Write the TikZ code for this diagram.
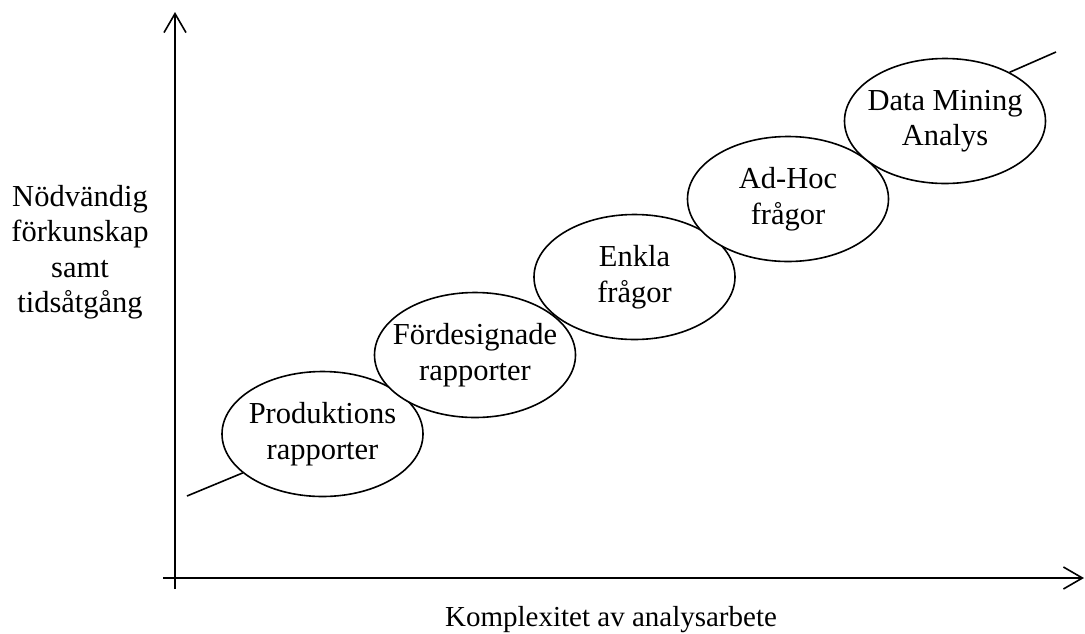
\documentclass[tikz,border=0pt]{standalone}
\usepackage{fontspec}
\setmainfont{Liberation Serif}
\usetikzlibrary{shapes.geometric,arrows.meta}
\tikzset{
  stage/.style={ellipse, draw, fill=white, line width=1.6pt, inner sep=0pt,
    minimum width=201pt, minimum height=125pt},
  stagetext/.style={align=center, inner sep=0pt},
  axis/.style={line width=1.6pt, -{Straight Barb[length=19pt,width=22pt,line width=1.6pt]}},
  trend/.style={line width=1.6pt}
}
\begin{document}
\begin{tikzpicture}[x=1pt,y=-1pt,font=\fontsize{30.5}{35.5}\selectfont]
\useasboundingbox (0,0) rectangle (1085,633);
% axes
\coordinate (yb) at (175,589);
\coordinate (yt) at (175,12);
\coordinate (xl) at (163,578);
\coordinate (xr) at (1084,578);
\draw[axis] (yb) -- (yt);
\draw[axis] (xl) -- (xr);
% stages
\node[stage, label={[stagetext]center:Produktions\\rapporter}] (e1) at (322.5,434) {};
\node[stage, label={[stagetext]center:Fördesignade\\rapporter}] (e2) at (475,355) {};
\node[stage, label={[stagetext]center:Enkla\\frågor}] (e3) at (634.5,277) {};
\node[stage, label={[stagetext]center:Ad-Hoc\\frågor}] (e4) at (788,199) {};
\node[stage, label={[stagetext]center:Data Mining\\Analys}] (e5) at (945,121) {};
% trend line ends
\coordinate (ts) at (187,496);
\coordinate (te) at (1056,52);
\draw[trend] (ts) -- (e1.206);
\draw[trend] (e5.37) -- (te);
% labels
\node[align=center] (ylab) at (80,252) {Nödvändig\\förkunskap\\samt\\tidsåtgång};
\node[anchor=base, inner sep=0pt, font=\fontsize{29}{34}\selectfont] (xlab) at (611,626) {Komplexitet av analysarbete};
\end{tikzpicture}
\end{document}
